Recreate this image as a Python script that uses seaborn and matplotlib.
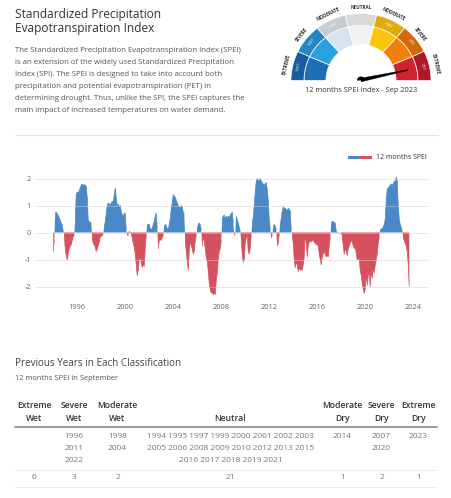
import numpy as np
import pandas as pd
import matplotlib
matplotlib.use("Agg")
import matplotlib.pyplot as plt
from matplotlib.patches import Polygon, Rectangle
import seaborn as sns

# ---------------- data: 12 months SPEI, monthly ----------------
spei_1994 = [-0.7, -0.3, 0.72, 0.75, 0.7, 0.62, 0.55, 0.45, 0.35, 0.3, 0.02, -0.05]
spei_1995 = [-0.6, -0.85, -1.02, -0.8, -0.6, -0.5, -0.45, -0.3, -0.15, -0.08, 0.5, 1.4]
spei_1996 = [1.5, 1.45, 1.55, 1.65, 1.75, 1.8, 1.72, 1.78, 1.75, 1.7, 1.3, 0.45]
spei_1997 = [0.4, 0.38, 0.35, -0.2, -0.4, -0.45, -0.55, -0.7, -0.6, -0.5, -0.35, -0.15]
spei_1998 = [-0.15, -0.1, -0.05, 0.2, 0.4, 0.7, 1.0, 1.1, 1.05, 1.0, 1.1, 1.15]
spei_1999 = [1.15, 1.4, 1.65, 1.3, 1.0, 1.05, 0.95, 1.0, 0.8, 0.65, 0.6, 0.72]
spei_2000 = [0.7, 0.1, -0.1, -0.12, 0.05, 0.0, -0.05, -0.2, -0.4, -0.55, -0.8, -1.2]
spei_2001 = [-1.6, -1.4, -1.0, -0.9, -1.1, -1.3, -1.2, -1.25, -0.6, -0.1, 0.3, 0.3]
spei_2002 = [0.3, 0.15, 0.1, 0.15, 0.3, 0.4, 0.6, 0.72, 0.15, -0.6, -0.3, -0.25]
spei_2003 = [-0.3, -0.2, -0.1, 0.2, 0.3, 0.25, 0.15, 0.1, 0.3, 0.5, 0.9, 1.1]
spei_2004 = [1.4, 1.35, 1.3, 1.2, 1.1, 1.0, 0.95, 0.9, 1.0, 0.95, 0.75, 0.7]
spei_2005 = [-0.3, -0.7, -1.1, -1.4, -0.7, -0.3, -0.5, -0.6, -0.8, -0.7, -0.3, -0.1]
spei_2006 = [0.1, 0.3, 0.35, 0.3, 0.1, -0.5, -0.2, -0.3, -0.6, -0.9, -1.1, -1.4]
spei_2007 = [-1.9, -2.1, -2.25, -2.2, -2.3, -2.25, -2.3, -1.8, -1.5, -1.0, -0.7, -0.6]
spei_2008 = [-0.3, 0.5, 0.6, 0.65, 0.5, 0.6, 0.55, 0.6, 0.55, 0.65, 0.7, 0.75]
spei_2009 = [0.4, -0.1, -0.05, 0.6, 0.5, 0.35, 0.2, 0.05, -0.3, -0.8, -1.1, -1.0]
spei_2010 = [-0.4, -0.2, -0.05, -0.7, -0.8, -0.6, -0.1, 0.3, 0.6, 1.0, 1.5, 1.9]
spei_2011 = [2.0, 1.95, 1.9, 2.0, 1.9, 1.85, 1.8, 1.75, 1.8, 1.85, 1.6, 1.2]
spei_2012 = [0.5, 0.1, -0.2, -0.1, 0.2, 0.3, 0.25, 0.1, -0.5, -0.4, -0.05, 0.3]
spei_2013 = [0.5, 0.8, 0.95, 0.9, 0.9, 0.85, 0.8, 0.9, 0.85, 0.8, 0.1, -0.1]
spei_2014 = [-0.4, -1.0, -1.3, -1.1, -1.2, -1.45, -1.3, -1.4, -1.35, -1.4, -1.2, -0.9]
spei_2015 = [-0.05, -0.4, -0.9, -0.5, -0.35, -0.3, -0.35, -0.3, -0.3, -0.35, -0.4, -0.45]
spei_2016 = [-0.45, -0.5, -0.8, -1.0, -1.2, -0.9, -0.8, -0.7, -0.8, -0.9, -0.85, -0.9]
spei_2017 = [-0.5, -0.2, 0.35, 0.4, 0.4, 0.38, 0.35, 0.05, 0.0, -0.02, 0.0, 0.0]
spei_2018 = [-0.02, -0.1, -0.5, -0.8, -0.6, -0.7, -0.85, -0.6, -0.5, -0.4, -0.3, -0.35]
spei_2019 = [-0.5, -0.6, -0.5, -0.8, -1.0, -1.0, -0.95, -1.4, -1.6, -1.9, -2.1, -2.25]
spei_2020 = [-2.1, -1.5, -1.95, -1.6, -1.5, -2.0, -1.4, -1.7, -1.3, -1.5, -1.2, -1.0]
spei_2021 = [-0.8, -0.4, -0.15, 0.1, 0.12, 0.15, 0.2, 0.3, 0.5, 1.2, 1.6, 1.65]
spei_2022 = [1.7, 1.75, 1.8, 1.75, 1.8, 1.9, 1.85, 2.05, 1.9, 1.0, 0.5, 0.3]
spei_2023 = [0.2, 0.05, -0.2, -0.3, -0.4, -0.5, -0.7, -1.2, -2.0]

yearly = [spei_1994, spei_1995, spei_1996, spei_1997, spei_1998, spei_1999,
          spei_2000, spei_2001, spei_2002, spei_2003, spei_2004, spei_2005,
          spei_2006, spei_2007, spei_2008, spei_2009, spei_2010, spei_2011,
          spei_2012, spei_2013, spei_2014, spei_2015, spei_2016, spei_2017,
          spei_2018, spei_2019, spei_2020, spei_2021, spei_2022, spei_2023]
first_year = 1994

x_ticks = [1996, 2000, 2004, 2008, 2012, 2016, 2020, 2024]
y_ticks = [-2, -1, 0, 1, 2]

# classification table
class_names = ["Extreme\nWet", "Severe\nWet", "Moderate\nWet", "Neutral",
               "Moderate\nDry", "Severe\nDry", "Extreme\nDry"]
years_extreme_wet = []
years_severe_wet = [1996, 2011, 2022]
years_moderate_wet = [1998, 2004]
years_neutral = [1994, 1995, 1997, 1999, 2000, 2001, 2002, 2003, 2005, 2006, 2008,
                 2009, 2010, 2012, 2013, 2015, 2016, 2017, 2018, 2019, 2021]
years_moderate_dry = [2014]
years_severe_dry = [2007, 2020]
years_extreme_dry = [2023]

gauge_labels = ["EXTREME", "SEVERE", "MODERATE", "NEUTRAL", "MODERATE", "SEVERE", "EXTREME"]
gauge_band = ["WET", "WET", "WET", "", "DRY", "DRY", "DRY"]
current_value = -2.0

# ---------------- build series ----------------
t_list, v_list = [], []
for i, arr in enumerate(yearly):
    for m, val in enumerate(arr):
        t_list.append(first_year + i + m / 12.0)
        v_list.append(val)
df = pd.DataFrame({"t": t_list, "v": v_list})
df["pos"] = df["v"] >= 0
df["seg"] = (df["pos"] != df["pos"].shift()).cumsum()

# ---------------- figure ----------------
sns.set_style("white")
plt.rcParams["font.family"] = ["Open Sans", "DejaVu Sans"]

BLUE = "#4a89c6"
RED = "#d5515e"

fig = plt.figure(figsize=(4.51, 4.98), dpi=100)
canvas = fig.add_axes([0, 0, 1, 1])
canvas.set_xlim(0, 451)
canvas.set_ylim(498, 0)
canvas.axis("off")

# title and description
canvas.text(15, 14, "Standardized Precipitation", fontsize=8.6, color="#333333", va="center")
canvas.text(15, 28, "Evapotranspiration Index", fontsize=8.6, color="#333333", va="center")
desc = ["The Standardized Precipitation Evapotranspiration Index (SPEI)",
        "is an extension of the widely used Standardized Precipitation",
        "Index (SPI). The SPEI is designed to take into account both",
        "precipitation and potential evapotranspiration (PET) in",
        "determining drought. Thus, unlike the SPI, the SPEI captures the",
        "main impact of increased temperatures on water demand."]
for k, line in enumerate(desc):
    canvas.text(15, 50 + k * 12, line, fontsize=5.6, color="#555555", va="center")
canvas.plot([15, 438], [134.5, 134.5], color="#e6e6e6", lw=0.8)

# ---------------- gauge ----------------
cx, cy = 361, 80.5
def ring(rx0, ry0, rx1, ry1, a0, a1, n=40):
    a = np.radians(np.linspace(a0, a1, n))
    outer = np.c_[cx + rx1 * np.cos(a), cy - ry1 * np.sin(a)]
    inner = np.c_[cx + rx0 * np.cos(a[::-1]), cy - ry0 * np.sin(a[::-1])]
    return np.vstack([outer, inner])

inner_cols = ["#1f6fb8", "#27a2df", "#d4e5f1", "#f2f2f2", "#fdc30e", "#f07f0b", "#d1232f"]
band_cols = ["#185c9d", "#2388c2", "#c5ccd3", "#d9d9d9", "#e2a90f", "#d3690a", "#ad1925"]
nseg = 7
step = 180.0 / nseg
for i in range(nseg):
    a1 = 180 - i * step
    a0 = a1 - step
    canvas.add_patch(Polygon(ring(35, 36, 57, 55, a0, a1), closed=True, fc=inner_cols[i],
                             ec="white", lw=0.5))
    canvas.add_patch(Polygon(ring(57, 55, 70, 67, a0, a1), closed=True, fc=band_cols[i],
                             ec="white", lw=0.5))
    am = np.radians((a0 + a1) / 2)
    rot = np.degrees(am) - 90
    canvas.text(cx + 76 * np.cos(am), cy - 73.5 * np.sin(am), gauge_labels[i], fontsize=3.3,
                fontweight="bold", color="#333333", rotation=rot, ha="center", va="center",
                rotation_mode="anchor")
    if gauge_band[i]:
        canvas.text(cx + 63.5 * np.cos(am), cy - 61 * np.sin(am), gauge_band[i], fontsize=2.8,
                    fontweight="bold", color="white", alpha=0.55, rotation=rot,
                    ha="center", va="center", rotation_mode="anchor")

# needle
na = np.radians(12)
L = 48
perp = np.array([-np.sin(na), -np.cos(na)])
d = np.array([np.cos(na), -np.sin(na)])
c0 = np.array([cx, cy - 0.5])
needle = np.array([c0 + perp * 1.8, c0 + d * L + perp * 0.4, c0 + d * L - perp * 0.4,
                   c0 - perp * 1.8])
canvas.add_patch(Polygon(needle, closed=True, fc="black", ec="black", lw=0.3))
hub = np.radians(np.linspace(0, 180, 30))
canvas.add_patch(Polygon(np.c_[cx + 4 * np.cos(hub), cy - 4 * np.sin(hub)], closed=True,
                         fc="black", ec="none"))
canvas.text(361, 90.5, "12 months SPEI Index - Sep 2023", fontsize=5.3, color="#333333",
            ha="center", va="center")

# ---------------- time series chart ----------------
ax = fig.add_axes([35 / 451, 1 - 300 / 498, 393 / 451, 135 / 498])
ax.set_facecolor("none")
t = df["t"].values
v = df["v"].values
ax.fill_between(t, v, 0, where=v >= 0, interpolate=True, color=BLUE, lw=0, zorder=2)
ax.fill_between(t, v, 0, where=v <= 0, interpolate=True, color=RED, lw=0, zorder=2)
sns.lineplot(data=df[df["pos"]], x="t", y="v", units="seg", estimator=None,
             color=BLUE, lw=0.5, ax=ax, zorder=2)
sns.lineplot(data=df[~df["pos"]], x="t", y="v", units="seg", estimator=None,
             color=RED, lw=0.5, ax=ax, zorder=2)
for yv in y_ticks:
    ax.axhline(yv, color="#e6e6e6", lw=0.7, zorder=1)
    ax.axhline(yv, color="#eeeeee", lw=0.7, alpha=0.35, zorder=3)
ax.set_xlim(1992.48, 2025.23)
ax.set_ylim(-2.5, 2.5)
ax.set_xticks(x_ticks)
ax.set_xticklabels([str(x) for x in x_ticks])
ax.set_yticks(y_ticks)
ax.set_yticklabels([str(y) for y in y_ticks])
ax.tick_params(axis="both", length=0, labelsize=5.4, colors="#666666", pad=3)
ax.set_xlabel("")
ax.set_ylabel("")
for s in ax.spines.values():
    s.set_visible(False)
if ax.get_legend():
    ax.get_legend().remove()

# legend
canvas.add_patch(Rectangle((348, 155.5), 12, 3, fc=BLUE, ec="none"))
canvas.add_patch(Rectangle((360, 155.5), 12, 3, fc=RED, ec="none"))
canvas.text(376, 157, "12 months SPEI", fontsize=5.0, color="#333333", va="center")

# ---------------- table ----------------
canvas.text(15, 363.5, "Previous Years in Each Classification", fontsize=7.1, color="#444444",
            va="center")
canvas.text(15, 378.5, "12 months SPEI in September", fontsize=5.4, color="#555555",
            va="center")

col_x = [34, 74, 117.5, 230.5, 342.5, 381.5, 418.5]
class_years = [years_extreme_wet, years_severe_wet, years_moderate_wet, years_neutral,
               years_moderate_dry, years_severe_dry, years_extreme_dry]
for i, name in enumerate(class_names):
    parts = name.split("\n")
    if len(parts) == 2:
        canvas.text(col_x[i], 405.7, parts[0], fontsize=6.2, color="#333333", ha="center",
                    va="center", fontweight="semibold")
        canvas.text(col_x[i], 418.3, parts[1], fontsize=6.2, color="#333333", ha="center",
                    va="center", fontweight="semibold")
    else:
        canvas.text(col_x[i], 418.3, parts[0], fontsize=6.2, color="#333333", ha="center",
                    va="center", fontweight="semibold")
    yrs = class_years[i]
    if i == 3:
        lines = [" ".join(str(y) for y in yrs[j:j + 8]) for j in range(0, len(yrs), 8)]
    else:
        lines = [str(y) for y in yrs]
    for k, line in enumerate(lines):
        canvas.text(col_x[i], 436.7 + k * 12, line, fontsize=6.0, color="#777777",
                    ha="center", va="center")
    canvas.text(col_x[i], 477, str(len(yrs)), fontsize=6.0, color="#777777", ha="center",
                va="center")

canvas.plot([15, 437], [427.3, 427.3], color="#9a9a9a", lw=1.4)
canvas.plot([15, 437], [469.5, 469.5], color="#e8e8e8", lw=0.6)
canvas.plot([15, 437], [486.5, 486.5], color="#e8e8e8", lw=0.6)

fig.savefig("out.png", dpi=100)
